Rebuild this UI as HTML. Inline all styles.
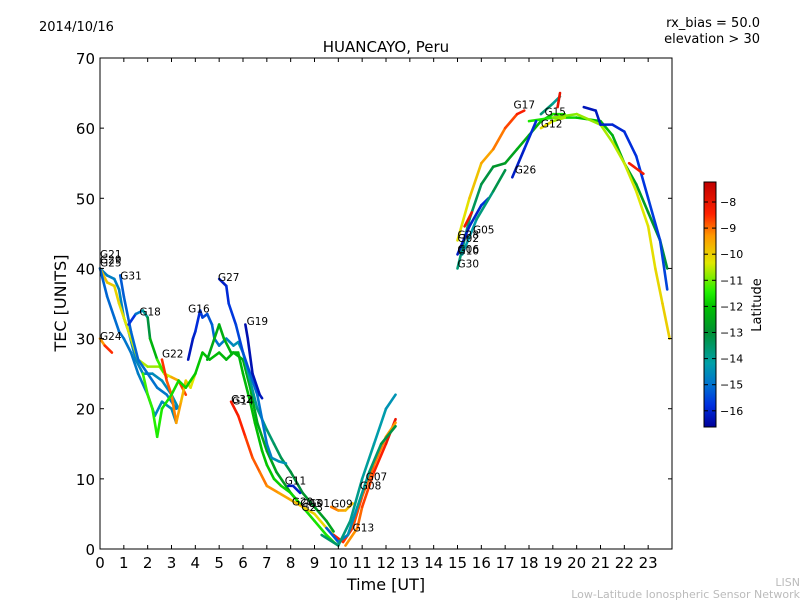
<!DOCTYPE html>
<html><head><meta charset="utf-8"><style>
body{margin:0;background:#fff;width:800px;height:600px;overflow:hidden;font-family:"Liberation Sans","DejaVu Sans",sans-serif}
</style></head><body>
<svg id="chart" width="800" height="600" xmlns="http://www.w3.org/2000/svg" font-family="DejaVu Sans, Liberation Sans, sans-serif">
<defs><linearGradient id="jet" x1="0" y1="1" x2="0" y2="0">
<stop offset="0" stop-color="#00009a"/><stop offset="0.09" stop-color="#0030e0"/><stop offset="0.17" stop-color="#0070d0"/><stop offset="0.26" stop-color="#00a0a8"/><stop offset="0.39" stop-color="#009030"/><stop offset="0.49" stop-color="#00c000"/><stop offset="0.55" stop-color="#20f000"/><stop offset="0.67" stop-color="#e0e800"/><stop offset="0.78" stop-color="#ff9900"/><stop offset="0.87" stop-color="#ff2000"/><stop offset="1" stop-color="#c00000"/>
</linearGradient></defs>
<text x="39" y="31" font-size="13">2014/10/16</text>
<text x="760" y="27" font-size="13" text-anchor="end">rx_bias = 50.0</text>
<text x="760" y="43" font-size="13" text-anchor="end">elevation &gt; 30</text>
<text x="386" y="52" font-size="15" text-anchor="middle">HUANCAYO, Peru</text>
<g id="plot"></g>
<g id="axes"></g>
<rect x="100" y="58" width="572" height="491" fill="none" stroke="#000" stroke-width="1"/>
<text x="386" y="590" font-size="16" text-anchor="middle">Time [UT]</text>
<text transform="translate(66,303) rotate(-90)" font-size="16" text-anchor="middle">TEC [UNITS]</text>
<rect x="704" y="182" width="12" height="245" fill="url(#jet)" stroke="#000" stroke-width="1"/>
<g id="cbar"></g>
<text transform="translate(761,305) rotate(-90)" font-size="13" text-anchor="middle">Latitude</text>
<text x="800" y="586" font-size="11" fill="#bbb" text-anchor="end">LISN</text>
<text x="800" y="598" font-size="11" fill="#bbb" text-anchor="end">Low-Latitude Ionospheric Sensor Network</text>
</svg>
<script>
const xTicks=[0,1,2,3,4,5,6,7,8,9,10,11,12,13,14,15,16,17,18,19,20,21,22,23];
const yTicks=[0,10,20,30,40,50,60,70];
const cbTicks=[-8,-9,-10,-11,-12,-13,-14,-15,-16];
const seriesNames=["G25","G29","G21","G31","G18","G24","G22","Gn1","G16","G27","G19","Gn2","G32","G11","G09","G13","G07","G08","Gn3","G17","G30","Gn4","Gn5","Gb1","G15","Gr1","G26","G12","Gb2","Gr2","Gr3","G05"];
const seriesPoints=[
[[0,40],[0.3,39],[0.6,38.5],[0.8,37],[1,33],[1.2,31],[1.5,27],[1.8,25],[2.2,25],[2.6,24],[3,22],[3.3,20]],
[[0,40],[0.3,38],[0.6,37.5],[0.8,35],[1,33],[1.3,30],[1.6,27],[2,26],[2.5,26],[2.8,24.5]],
[[0,40],[0.3,36],[0.6,33],[0.8,31],[1,30],[1.3,28],[1.6,25],[2,22],[2.3,19],[2.6,21],[3,20],[3.2,18]],
[[0.85,39],[1,36],[1.3,31],[1.6,27],[2,25],[2.4,23],[2.8,22],[3.2,20]],
[[1.2,32],[1.5,33.5],[1.8,34],[2,33],[2.1,30],[2.4,27],[2.7,25],[3,24.5],[3.3,24],[3.6,22]],
[[0,30],[0.2,29],[0.5,28]],
[[2.6,27],[2.8,24],[3,22],[3.2,18],[3.4,21],[3.6,24],[3.8,23],[4,25]],
[[1.8,25],[2,22],[2.2,20],[2.4,16],[2.6,20],[3,22],[3.3,24],[3.6,23],[4,25],[4.3,28],[4.6,27],[5,28],[5.3,27],[5.6,28],[6,27],[6.3,23],[6.6,18],[7,14],[7.4,11],[8,8],[8.5,6]],
[[3.7,27],[3.9,30],[4,31],[4.2,34],[4.3,33],[4.5,33.5],[4.7,32],[4.8,30],[5,29],[5.3,30],[5.6,29],[5.8,29.5],[6,28],[6.3,24],[6.6,20],[7,17],[7.3,15],[7.6,13],[8,11],[8.5,8],[9,6],[9.5,4],[9.8,2.5]],
[[5,38.5],[5.3,37.5],[5.4,35],[5.7,32],[6,28],[6.3,25],[6.6,22],[7,15],[7.2,13],[7.5,12.5],[7.8,12.2]],
[[6.1,32],[6.2,30],[6.4,25],[6.7,22],[6.8,21.5]],
[[4.5,27],[4.8,30],[5,32],[5.2,30],[5.5,28],[5.8,28],[6,25],[6.3,21],[6.5,18],[6.8,14],[7,12],[7.3,10],[7.6,9],[8,8],[8.5,6],[9,4],[9.5,2],[9.8,1],[10,0.5]],
[[5.5,21],[5.8,19],[6.1,16],[6.4,13],[6.7,11],[7,9],[7.5,8],[8,7],[8.5,6],[9,5],[9.5,3],[9.8,2]],
[[7.9,9],[8.1,9],[8.4,8]],
[[9.7,6],[10,5.5],[10.3,5.5],[10.6,6.5]],
[[10.3,0.5],[10.8,3],[11,6],[11.5,11],[12,15],[12.4,18.5]],
[[9.8,2],[10.2,1],[10.6,3],[11,7.5],[11.5,12],[12,16],[12.4,18]],
[[9.5,3],[10,1],[10.4,2],[10.8,6],[11.3,11],[11.8,15],[12.4,17.5]],
[[9.3,2],[10,0.5],[10.5,4],[11,10],[11.5,15],[12,20],[12.4,22]],
[[15,44],[15.5,50],[16,55],[16.5,57],[17,60],[17.5,62],[17.8,62.5]],
[[15,40],[15.5,47],[16,52],[16.5,54.5],[17,55],[17.5,57],[18,59],[18.5,61],[19,62],[19.5,62]],
[[18,61],[19,61.5],[20,61.5],[21,61],[21.5,59],[22,55],[22.5,52],[23,48],[23.5,44],[23.8,40]],
[[19,61.5],[20,62],[21,60.5],[21.5,58],[22,55],[22.5,51],[23,46],[23.3,40],[23.6,35],[23.9,30]],
[[20.3,63],[20.8,62.5],[21,60.5],[21.5,60.5],[22,59.5],[22.5,56],[23,50],[23.5,44],[23.8,37]],
[[18.5,62],[19,63.5],[19.3,64.5]],
[[19.2,63],[19.3,65]],
[[17.3,53],[17.8,57],[18.3,61]],
[[18.5,60],[19,61],[19.5,61.5]],
[[15,42],[15.5,46],[16,49],[16.3,50]],
[[15.3,46],[15.6,48]],
[[22.2,55],[22.8,53.5]],
[[15.2,42],[15.8,47],[16.5,51],[17,54]]
];
const seriesLat=[[-14.8,-14.5],[-9.8,-11],[-15.2,-14.5],[-15.3,-14.8],[-16.2,-8.3],[-9.8,-8.2],[-8.5,-10.5],[-11.3,-12.8],[-16.3,-12.5],[-16.2,-14.3],[-16.4,-16.2],[-12.5,-11.5],[-8.2,-10.5],[-16.3,-16],[-9,-10],[-9.5,-8],[-8.3,-9.5],[-15.5,-13],[-13.5,-14.5],[-10.5,-8.2],[-13.8,-11.5],[-11.5,-13.2],[-11,-10],[-16.3,-15.5],[-13.5,-14.2],[-8,-8],[-16.2,-15.8],[-10,-11],[-16.2,-15.8],[-8.2,-8],[-8.3,-8.3],[-14.5,-13]];
const labelNames=["G21","G29","G25","G31","G18","G24","G22","G16","G27","G19","G32","G14","G11","G20","G03","G01","G23","G09","G07","G08","G13","G17","G15","G12","G26","G05","G28","G02","G06","G10","G30"];
const labelT=[0,0,0,0.85,1.65,0,2.6,3.7,4.95,6.15,5.5,5.55,7.75,8.05,8.4,8.75,8.45,9.7,11.15,10.9,10.6,17.35,18.65,18.5,17.4,15.65,15,15,15,15,15];
const labelV=[41.5,40.7,40.3,38.4,33.3,29.8,27.3,33.7,38.2,31.9,20.8,20.6,9.2,6.2,6.0,6.0,5.4,5.9,9.8,8.5,2.5,62.8,61.8,60.1,53.5,45.0,44.3,43.8,42.2,42.0,40.1];
const SVGNS="http://www.w3.org/2000/svg";
const X=t=>100+t*572/24, Y=v=>549-v*491/70;
const cstops=[[-16.6,[0,0,154]],[-15.8,[0,48,224]],[-15.0,[0,112,208]],[-14.2,[0,160,168]],[-13.0,[0,144,48]],[-12.0,[0,192,0]],[-11.5,[32,240,0]],[-10.4,[224,232,0]],[-9.4,[255,153,0]],[-8.5,[255,32,0]],[-7.2,[192,0,0]]];
function col(l){if(l<=cstops[0][0])return "rgb("+cstops[0][1]+")";for(let i=1;i<cstops.length;i++){if(l<=cstops[i][0]){const a=cstops[i-1],b=cstops[i],f=(l-a[0])/(b[0]-a[0]);return "rgb("+a[1].map((c,k)=>Math.round(c+(b[1][k]-c)*f)).join(",")+")";}}return "rgb(192,0,0)";}
const plot=document.getElementById('plot'),axes=document.getElementById('axes'),cb=document.getElementById('cbar');
function mk(tag,attrs,parent){const e=document.createElementNS(SVGNS,tag);for(const k in attrs)e.setAttribute(k,attrs[k]);parent.appendChild(e);return e;}
seriesPoints.forEach((pts,si)=>{
  const g=mk('g',{},plot);
  
  
  const n=pts.length-1,[l0,l1]=seriesLat[si];
  for(let i=0;i<n;i++){
    const l=l0+(l1-l0)*(i+0.5)/Math.max(n,1);
    const s=mk('line',{x1:X(pts[i][0]),y1:Y(pts[i][1]),x2:X(pts[i+1][0]),y2:Y(pts[i+1][1]),stroke:col(l),'stroke-width':2.6,'stroke-linecap':'round'},g);
    
    
  }
});
labelNames.forEach((nm,i)=>{
  const t=mk('text',{x:X(labelT[i]),y:Y(labelV[i]),'font-size':10.5},plot);
  t.textContent=nm;
  
  
});
xTicks.forEach(v=>{
  const x=X(v);
  mk('line',{x1:x,y1:549,x2:x,y2:545,stroke:'#000'},axes);
  mk('line',{x1:x,y1:58,x2:x,y2:62,stroke:'#000'},axes);
  const t=mk('text',{x:x,y:568,'font-size':15,'text-anchor':'middle'},axes);
  t.textContent=v;
  
  
});
yTicks.forEach(v=>{
  const y=Y(v);
  mk('line',{x1:100,y1:y,x2:104,y2:y,stroke:'#000'},axes);
  mk('line',{x1:672,y1:y,x2:668,y2:y,stroke:'#000'},axes);
  const t=mk('text',{x:95,y:y+6,'font-size':15,'text-anchor':'end'},axes);
  t.textContent=v;
  
  
});
cbTicks.forEach(v=>{
  const y=202+(-8-v)*26.1;
  mk('line',{x1:704,y1:y,x2:708,y2:y,stroke:'#000'},cb);
  mk('line',{x1:716,y1:y,x2:712,y2:y,stroke:'#000'},cb);
  const t=mk('text',{x:720,y:y+4,'font-size':11},cb);
  t.textContent='\u2212'+Math.abs(v);
  
  
});
</script>
</body></html>
